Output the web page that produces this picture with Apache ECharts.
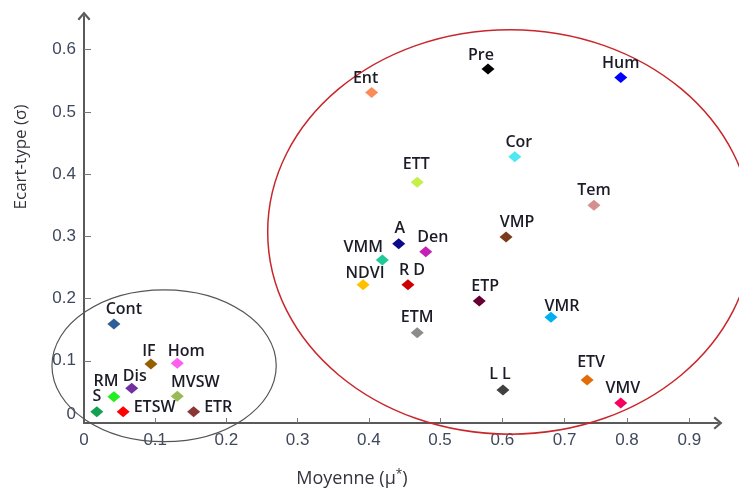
<!DOCTYPE html>
<html>
<head>
<meta charset="utf-8">
<script src="https://cdn.jsdelivr.net/npm/echarts@6/dist/echarts.min.js"></script>
<style>
  html, body { margin: 0; padding: 0; background: #ffffff; }
  #chart { width: 739px; height: 490px; }
</style>
</head>
<body>
<div id="chart"></div>
<script>
// Morris screening: mean of absolute elementary effects (mu*) vs standard deviation (sigma)
const factorNames = ['Pre', 'Hum', 'Ent', 'Cor', 'ETT', 'Tem', 'VMP', 'A', 'Den', 'VMM',
  'NDVI', 'R D', 'ETP', 'VMR', 'ETM', 'ETV', 'L L', 'VMV',
  'Cont', 'IF', 'Hom', 'Dis', 'RM', 'MVSW', 'S', 'ETSW', 'ETR'];
const muStar = [0.577, 0.790, 0.404, 0.620, 0.468, 0.747, 0.606, 0.442, 0.480, 0.419,
  0.392, 0.455, 0.563, 0.678, 0.468, 0.736, 0.601, 0.790,
  0.042, 0.094, 0.131, 0.067, 0.042, 0.131, 0.018, 0.055, 0.154];
const sigma = [0.569, 0.555, 0.531, 0.428, 0.387, 0.350, 0.299, 0.288, 0.275, 0.262,
  0.222, 0.222, 0.196, 0.170, 0.145, 0.069, 0.053, 0.032,
  0.159, 0.095, 0.096, 0.056, 0.042, 0.043, 0.018, 0.018, 0.018];

const xTicksLow = [0, 0.1, 0.2, 0.3, 0.4, 0.5];
const xTicksHigh = [0.6, 0.7, 0.8, 0.9];
const yTicks = [0, 0.1, 0.2, 0.3, 0.4, 0.5, 0.6];

// The mu* axis is drawn with a tighter scale above 0.5, so each part gets its own grid
const xBreak = 0.5;

// Marker colours, one per factor
const markerColors = ['#000000', '#0000ff', '#fb8c5a', '#4de8f0', '#c5f04a', '#d4908e', '#7a3b1a',
  '#0a0a8a', '#c71fb5', '#20c997', '#ffc000', '#cc0000', '#660033', '#00b0f0', '#8c8c8c',
  '#e36c09', '#404040', '#f5005f', '#2f5f98', '#946000', '#ff5cf0', '#7030a0', '#22ee22',
  '#99bb55', '#13a050', '#ff0000', '#8b3535'];

// Label nudges [dx, dy] and placement per factor
const labelNudge = {
  'Pre': [-7, 2], 'Hum': [0, 1], 'Ent': [-6, 1], 'Cor': [4, 1], 'ETT': [-1, -2], 'Tem': [0, 1],
  'VMP': [11, 1], 'A': [1, 0], 'Den': [7, 1], 'VMM': [-19, 3], 'NDVI': [2, 4], 'R D': [4, 1],
  'ETP': [6, 1], 'VMR': [11, 5], 'ETM': [0, 0], 'ETV': [4, -2], 'L L': [-3, 0],
  'VMV': [2, 1], 'Cont': [10, 1], 'IF': [-2, 3], 'Hom': [9, 4], 'Dis': [3, 4],
  'RM': [-8, 0], 'MVSW': [18, 2], 'S': [0, 0], 'ETSW': [0, -4], 'ETR': [0, -4]
};
const labelRight = ['ETSW', 'ETR'];

// Grouping ellipses, given by their bounding box in data units
const lowGroup = { xMin: -0.045, xMax: 0.270, yMin: -0.030, yMax: 0.214 };
const highGroup = { xMin: 0.258, xMax: 1.001, yMin: -0.018, yMax: 0.632 };

const axisColor = '#5a5a5a';
const tickLabelStyle = { color: '#3f485c', fontFamily: 'Liberation Sans, Arial, sans-serif', fontSize: 17 };
const arrowPath = 'path://M6,0 L12,7 L10.5,8.3 L6,3 L1.5,8.3 L0,7 Z';

function buildPoints(upper) {
  const out = [];
  factorNames.forEach((name, i) => {
    if ((muStar[i] >= xBreak) !== upper) return;
    const nudge = labelNudge[name] || [0, 0];
    const right = labelRight.indexOf(name) >= 0;
    out.push({
      name: name,
      value: [muStar[i], sigma[i]],
      itemStyle: { color: markerColors[i], opacity: 1 },
      label: { position: right ? 'right' : 'top', distance: right ? 4 : 2, offset: nudge }
    });
  });
  return out;
}

const pointLabel = {
  show: true,
  formatter: '{b}',
  color: '#1c1c28',
  fontFamily: 'Open Sans, Noto Sans, sans-serif',
  fontWeight: 600,
  fontSize: 16,
  lineHeight: 16
};

const chart = echarts.init(document.getElementById('chart'), null, { renderer: 'canvas' });

const option = {
  animation: false,
  backgroundColor: '#ffffff',
  grid: [
    { left: 84, top: 16, width: 356, height: 407, containLabel: false },
    { left: 440, top: 16, width: 278, height: 407, containLabel: false }
  ],
  xAxis: [
    {
      type: 'value', gridIndex: 0, min: 0, max: xBreak, interval: 0.1,
      axisLine: { show: true, lineStyle: { color: axisColor, width: 2 } },
      axisTick: { show: true, inside: true, length: 5, customValues: xTicksLow.slice(1), lineStyle: { color: '#777777', width: 1 } },
      axisLabel: Object.assign({ margin: 9, customValues: xTicksLow, formatter: v => (v === 0 ? '0' : v.toFixed(1)) }, tickLabelStyle),
      splitLine: { show: false }
    },
    {
      type: 'value', gridIndex: 1, min: xBreak, max: 0.946, interval: 0.1,
      axisLine: { show: true, symbol: ['none', arrowPath], symbolSize: [13, 9], lineStyle: { color: axisColor, width: 2 } },
      axisTick: { show: true, inside: true, length: 5, customValues: xTicksHigh, lineStyle: { color: '#777777', width: 1 } },
      axisLabel: Object.assign({ margin: 9, customValues: xTicksHigh, formatter: v => v.toFixed(1) }, tickLabelStyle),
      splitLine: { show: false }
    }
  ],
  yAxis: [
    {
      type: 'value', gridIndex: 0, min: 0, max: 0.654, interval: 0.1,
      axisLine: { show: true, symbol: ['none', arrowPath], symbolSize: [13, 9], lineStyle: { color: axisColor, width: 2 } },
      axisTick: { show: true, inside: true, length: 7, customValues: yTicks.slice(1), lineStyle: { color: '#777777', width: 1 } },
      axisLabel: Object.assign({
        margin: 8, customValues: yTicks,
        formatter: v => (v === 0 ? '{z|0}' : v.toFixed(1)),
        rich: { z: Object.assign({ padding: [0, 0, 18, 0] }, tickLabelStyle) }
      }, tickLabelStyle),
      splitLine: { show: false }
    },
    { type: 'value', gridIndex: 1, min: 0, max: 0.654, show: false, splitLine: { show: false } }
  ],
  series: [
    {
      type: 'scatter', xAxisIndex: 0, yAxisIndex: 0,
      symbol: 'diamond', symbolSize: [13, 11],
      itemStyle: { opacity: 1 },
      label: pointLabel,
      data: buildPoints(false), z: 3
    },
    {
      type: 'scatter', xAxisIndex: 1, yAxisIndex: 1,
      symbol: 'diamond', symbolSize: [13, 11],
      itemStyle: { opacity: 1 },
      label: pointLabel,
      data: buildPoints(true), z: 3
    }
  ]
};

chart.setOption(option);

function pixelOf(gridIndex, x, y) {
  return chart.convertToPixel({ gridIndex: gridIndex }, [x, y]);
}

function ellipseFrom(box, leftGrid, rightGrid, color, width) {
  const p1 = pixelOf(leftGrid, box.xMin, box.yMax);
  const p2 = pixelOf(rightGrid, box.xMax, box.yMin);
  return {
    type: 'ellipse', silent: true, z: 1,
    shape: { cx: (p1[0] + p2[0]) / 2, cy: (p1[1] + p2[1]) / 2, rx: Math.abs(p2[0] - p1[0]) / 2, ry: Math.abs(p2[1] - p1[1]) / 2 },
    style: { fill: 'none', stroke: color, lineWidth: width }
  };
}

const titleFont = 'Open Sans, Noto Sans, sans-serif';

chart.setOption({
  graphic: [
    ellipseFrom(lowGroup, 0, 0, '#555555', 1.2),
    ellipseFrom(highGroup, 0, 1, '#c8262b', 1.5),
    {
      type: 'text', x: 21, y: 157, rotation: Math.PI / 2, silent: true,
      style: { text: 'Ecart-type (σ)', fill: '#34343f', fontFamily: titleFont, fontSize: 17, align: 'center', verticalAlign: 'middle' }
    },
    {
      type: 'text', x: 352, y: 479, silent: true,
      style: {
        text: 'Moyenne (μ{s|*})', fill: '#34343f', fontFamily: titleFont, fontSize: 18, align: 'center', verticalAlign: 'middle',
        rich: { s: { fontFamily: titleFont, fontSize: 12, fill: '#34343f', verticalAlign: 'top', padding: [0, 0, 8, 0] } }
      }
    }
  ]
});
</script>
</body>
</html>
